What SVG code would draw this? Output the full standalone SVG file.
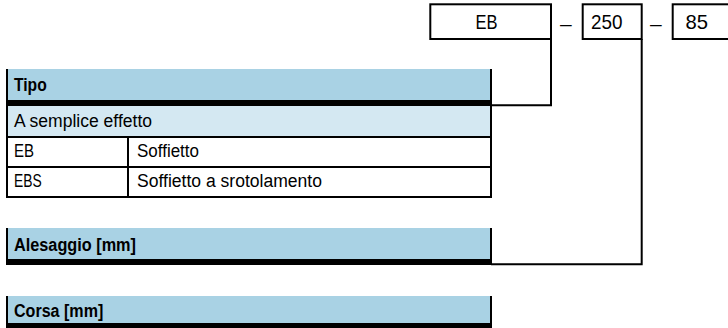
<svg xmlns="http://www.w3.org/2000/svg" width="728" height="328" viewBox="0 0 728 328">
<style>
  .t{font-family:"Liberation Sans",Arial,sans-serif;font-size:18px;fill:#000}
  .h{font-family:"Liberation Sans",Arial,sans-serif;font-size:18px;font-weight:bold;fill:#000}
  .c{font-family:"Liberation Sans",Arial,sans-serif;font-size:21px;fill:#000}
  .box{fill:#fff;stroke:#000;stroke-width:2}
  .hdr{fill:#a9d2e4}
  .sub{fill:#d4e8f2}
  .blk{fill:#000}
  .ln{fill:none;stroke:#000;stroke-width:2}
</style>
<rect width="728" height="328" fill="#fff"/>

<g id="code">
  <rect class="box" x="430.3" y="4.3" width="120.7" height="34.7"/>
  <text class="c" x="475.5" y="29" textLength="22" lengthAdjust="spacingAndGlyphs">EB</text>
  <text class="c" x="560" y="30.5" textLength="11.7" lengthAdjust="spacingAndGlyphs">–</text>
  <rect class="box" x="582.7" y="4.3" width="59" height="34.7"/>
  <text class="c" x="591" y="29" textLength="31.5" lengthAdjust="spacingAndGlyphs">250</text>
  <text class="c" x="650" y="30.5" textLength="11.7" lengthAdjust="spacingAndGlyphs">–</text>
  <rect class="box" x="672.7" y="4.3" width="70" height="34.7"/>
  <text class="c" x="685.5" y="29" textLength="22.5" lengthAdjust="spacingAndGlyphs">85</text>
</g>

<g id="connectors">
  <polyline class="ln" points="551,39 551,105.3 491,105.3"/>
  <polyline class="ln" points="641.7,39 641.7,264.3 491,264.3"/>
</g>

<g id="tipo">
  <rect class="hdr" x="6" y="69" width="486" height="31"/>
  <rect class="blk" x="6" y="100" width="486" height="6"/>
  <rect class="sub" x="6" y="106" width="486" height="30"/>
  <rect class="blk" x="6" y="69" width="2" height="129"/>
  <rect class="blk" x="490" y="69" width="2" height="129"/>
  <rect class="blk" x="6" y="136" width="486" height="2"/>
  <rect class="blk" x="6" y="166" width="486" height="2"/>
  <rect class="blk" x="6" y="196" width="486" height="2"/>
  <rect class="blk" x="127" y="137" width="2" height="60"/>
  <text class="h" x="14" y="91" textLength="32.7" lengthAdjust="spacingAndGlyphs">Tipo</text>
  <text class="t" x="14" y="127" textLength="138" lengthAdjust="spacingAndGlyphs">A semplice effetto</text>
  <text class="t" x="14" y="157" textLength="20" lengthAdjust="spacingAndGlyphs">EB</text>
  <text class="t" x="137" y="157" textLength="62" lengthAdjust="spacingAndGlyphs">Soffietto</text>
  <text class="t" x="14" y="187" textLength="27.7" lengthAdjust="spacingAndGlyphs">EBS</text>
  <text class="t" x="137" y="187" textLength="185" lengthAdjust="spacingAndGlyphs">Soffietto a srotolamento</text>
</g>

<g id="alesaggio">
  <rect class="hdr" x="6" y="228" width="486" height="31"/>
  <rect class="blk" x="6" y="259" width="486" height="6"/>
  <rect class="blk" x="6" y="228" width="2" height="37"/>
  <rect class="blk" x="490" y="228" width="2" height="37"/>
  <text class="h" x="14" y="251" textLength="122" lengthAdjust="spacingAndGlyphs">Alesaggio [mm]</text>
</g>

<g id="corsa">
  <rect class="hdr" x="6" y="296" width="486" height="27"/>
  <rect class="blk" x="6" y="323" width="486" height="5"/>
  <rect class="blk" x="6" y="296" width="2" height="32"/>
  <rect class="blk" x="490" y="296" width="2" height="32"/>
  <text class="h" x="14" y="317" textLength="89.3" lengthAdjust="spacingAndGlyphs">Corsa [mm]</text>
</g>
</svg>
